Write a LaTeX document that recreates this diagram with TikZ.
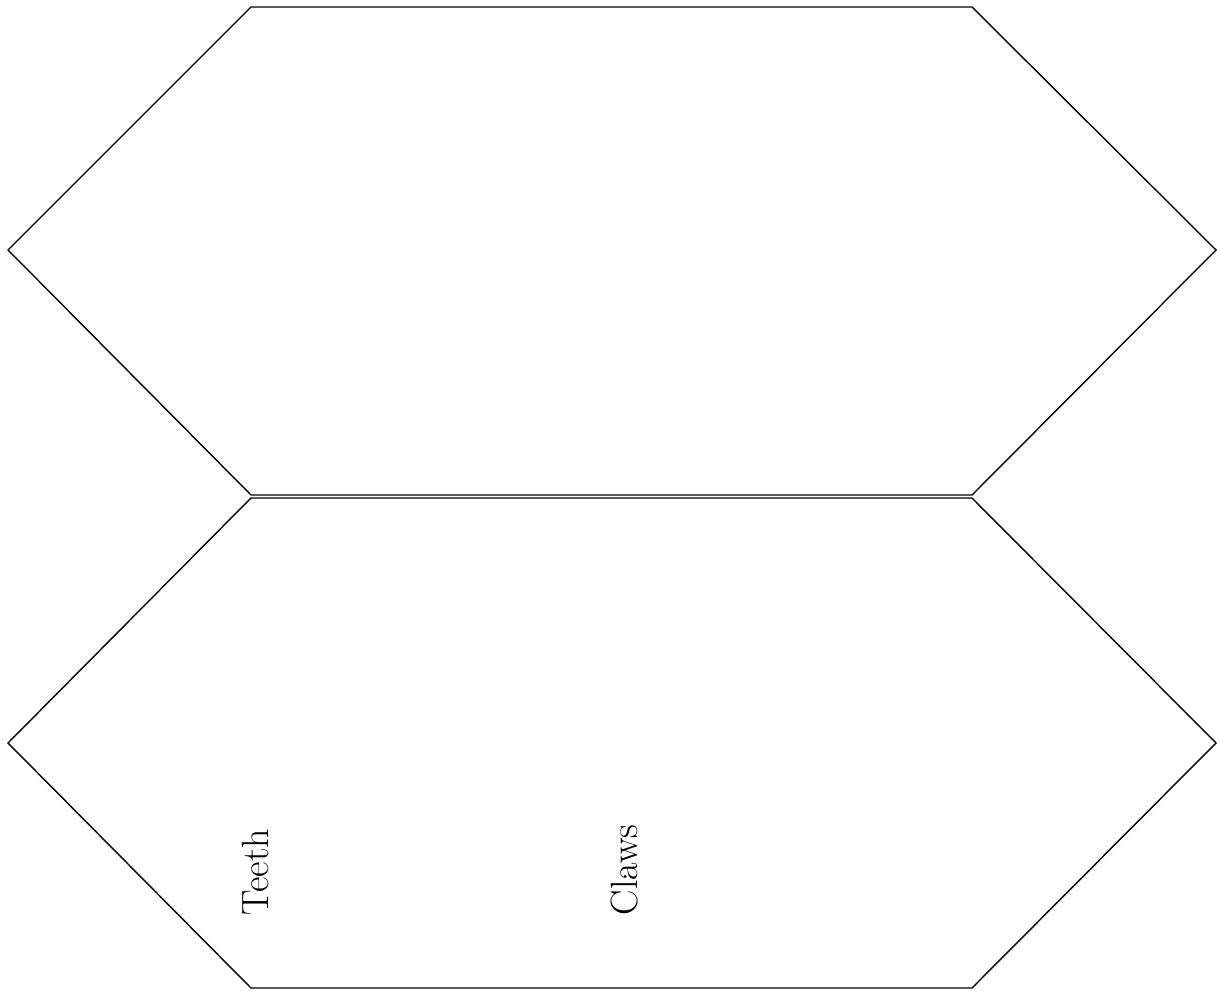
\documentclass[tikz,border=0pt]{standalone}
\begin{document}
\begin{tikzpicture}[x=1pt,y=-1pt,
  hexa/.style={draw=black,line width=1.4pt,line join=miter},
  lbl/.style={font=\fontsize{38}{44}\selectfont,rotate=90,inner sep=0pt}]
\useasboundingbox (0,0) rectangle (1217,990);
\draw[hexa] (251,7) coordinate (u1) -- (972,7) coordinate (u2) -- (1216,250) coordinate (u3) -- (972,495) coordinate (u4) -- (251,495) coordinate (u5) -- (8,250) coordinate (u6) -- cycle;
\draw[hexa] (251,498) coordinate (l1) -- (972,498) coordinate (l2) -- (1216,743) coordinate (l3) -- (972,988) coordinate (l4) -- (251,988) coordinate (l5) -- (8,743) coordinate (l6) -- cycle;
\node[lbl] (teeth) at (255,872) {Teeth};
\node[lbl] (claws) at (625,870) {Claws};
\end{tikzpicture}
\end{document}
